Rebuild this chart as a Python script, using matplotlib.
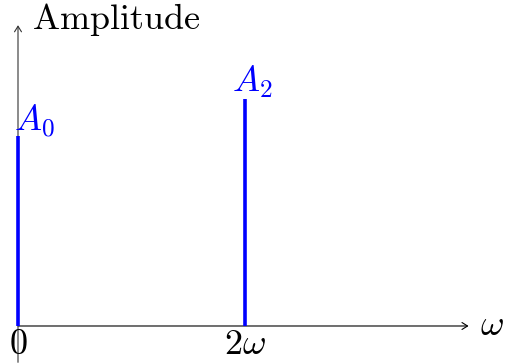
import matplotlib as mpl
import matplotlib.pyplot as plt
from matplotlib.patches import FancyArrowPatch

mpl.rcParams.update({
    "mathtext.fontset": "cm",
    "font.family": "serif",
    "font.serif": ["cmr10", "DejaVu Serif"],
    "axes.formatter.use_mathtext": True,
})

# spectral lines: frequency (in units of omega) and amplitude
freqs = [0, 2]
amps = [1.67, 2.0]
line_labels = [r"$A_0$", r"$A_2$"]
tick_pos = [0, 2]
tick_labels = [r"$0$", r"$2\omega$"]

blue = "#0000ff"
fs = 26

fig = plt.figure(figsize=(5.06, 3.63), dpi=100)
ax = fig.add_axes([0, 0, 1, 1])
ax.set_xlim(-0.1586, 4.2996)
ax.set_ylim(-0.326, 2.872)
ax.axis("off")

# axes with arrow heads
ax.add_patch(FancyArrowPatch((0, 0), (3.97, 0), arrowstyle="->,head_length=4,head_width=2.5",
                             lw=0.8, color="black", shrinkA=0, shrinkB=0, zorder=1))
ax.add_patch(FancyArrowPatch((0, -0.32), (0, 2.65), arrowstyle="->,head_length=4,head_width=2.5",
                             lw=0.8, color="#333333", shrinkA=0, shrinkB=0, zorder=1))

# amplitude lines
ax.vlines(freqs, 0, amps, colors=blue, lw=2.6, zorder=2)
ax.text(freqs[0] - 0.035, amps[0] - 0.03, line_labels[0], color=blue, fontsize=fs,
        ha="left", va="bottom")
ax.text(freqs[1] + 0.06, amps[1] - 0.01, line_labels[1], color=blue, fontsize=fs,
        ha="center", va="bottom")

for p, lab in zip(tick_pos, tick_labels):
    ax.text(p, -0.03, lab, fontsize=fs, ha="center", va="top")

ax.text(4.07, 0, r"$\omega$", fontsize=fs, ha="left", va="center")
ax.text(0.12, 2.62, r"$\mathrm{Amplitude}$", fontsize=fs, ha="left", va="baseline")

fig.savefig("out.png", dpi=100)
